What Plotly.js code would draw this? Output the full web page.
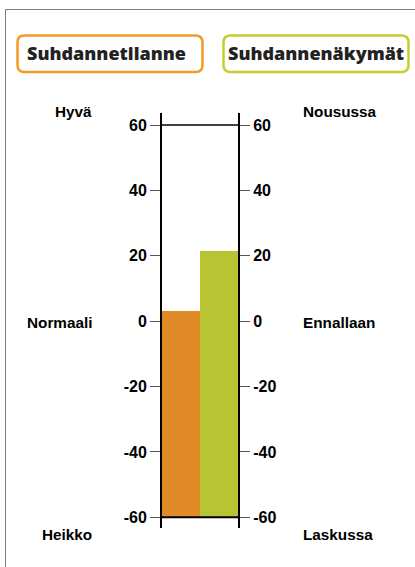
<!DOCTYPE html>
<html>
<head>
<meta charset="utf-8">
<script src="https://cdn.plot.ly/plotly-3.0.1.min.js"></script>
<style>html,body{margin:0;padding:0;background:#fff;}#chart{width:415px;height:567px;}</style>
</head>
<body>
<div id="chart"></div>
<script>
// Data
const seriesNames = ["Suhdannetilanne", "Suhdannenäkymät"];
const seriesValues = [3, 21.4];
const barColors = ["#E08A28", "#B9C434"];
const boxColors = ["#F39B26", "#C4CF2C"];
const tickValues = [-60, -40, -20, 0, 20, 40, 60];
const leftLabels = ["Hyvä", "Normaali", "Heikko"];
const rightLabels = ["Nousussa", "Ennallaan", "Laskussa"];
const baseValue = -60;

const W = 415, H = 567;
const M = {l: 162, r: 177, t: 113, b: 39};
const px = x => (x - M.l) / (W - M.l - M.r);
const py = y => (H - M.b - y) / (H - M.t - M.b);

function roundRect(x0, y0, x1, y1, r) {
  const X0 = px(x0), X1 = px(x1), Y0 = py(y0), Y1 = py(y1);
  const rx = px(x0 + r) - X0, ry = py(y0) - py(y0 + r);
  return `M ${X0 + rx},${Y0} L ${X1 - rx},${Y0} Q ${X1},${Y0} ${X1},${Y0 - ry} ` +
         `L ${X1},${Y1 + ry} Q ${X1},${Y1} ${X1 - rx},${Y1} L ${X0 + rx},${Y1} ` +
         `Q ${X0},${Y1} ${X0},${Y1 + ry} L ${X0},${Y0 - ry} Q ${X0},${Y0} ${X0 + rx},${Y0} Z`;
}

const traces = seriesValues.map((v, i) => ({
  type: "bar",
  x: [i],
  y: [v - baseValue],
  base: [baseValue],
  width: 1,
  marker: {color: barColors[i], line: {width: 0}},
  name: seriesNames[i],
  hoverinfo: "skip"
}));
traces.push({type: "scatter", x: [0], y: [0], yaxis: "y2", mode: "none", hoverinfo: "skip", showlegend: false});

const yRange = [-63.27, 63.67];
const tickFont = {family: "Arial, 'Liberation Sans', sans-serif", size: 16, color: "#000", weight: 700};
const axisCommon = {
  range: yRange, tickvals: tickValues, ticktext: tickValues.map(String),
  showline: true, linecolor: "#000", linewidth: 2,
  ticks: "outside", ticklen: 10, tickwidth: 1, tickcolor: "#555",
  showgrid: false, zeroline: false, tickfont: tickFont, fixedrange: true
};

const labelFont = {family: "Arial, 'Liberation Sans', sans-serif", size: 15.3, color: "#000", weight: 700};
const labelY = [111, 322, 534];
const annotations = [];
leftLabels.forEach((t, i) => annotations.push({
  text: t, xref: "paper", yref: "paper", x: px(94), y: py(labelY[i]),
  xanchor: "right", yanchor: "middle", showarrow: false, font: labelFont
}));
rightLabels.forEach((t, i) => annotations.push({
  text: t, xref: "paper", yref: "paper", x: px(301), y: py(labelY[i]),
  xanchor: "left", yanchor: "middle", showarrow: false, font: labelFont
}));
const boxFont = {family: "'Open Sans', 'Noto Sans', sans-serif", size: 18, color: "#222", weight: 800};
annotations.push({text: seriesNames[0], xref: "paper", yref: "paper", x: px(106), y: py(53),
  xanchor: "center", yanchor: "middle", showarrow: false, font: boxFont});
annotations.push({text: seriesNames[1], xref: "paper", yref: "paper", x: px(316), y: py(53),
  xanchor: "center", yanchor: "middle", showarrow: false, font: boxFont});

const shapes = [
  {type: "line", xref: "paper", yref: "paper", x0: px(5), x1: px(415), y0: py(9.5), y1: py(9.5), line: {color: "#808080", width: 1}},
  {type: "line", xref: "paper", yref: "paper", x0: px(5.5), x1: px(5.5), y0: py(9), y1: py(567), line: {color: "#808080", width: 1}},
  {type: "path", xref: "paper", yref: "paper", path: roundRect(17.5, 35.5, 202.5, 72, 7), line: {color: boxColors[0], width: 2.5}},
  {type: "path", xref: "paper", yref: "paper", path: roundRect(223.5, 35.5, 408.5, 72, 7), line: {color: boxColors[1], width: 2.5}},
  {type: "line", xref: "paper", yref: "y", x0: 0, x1: 1, y0: 60, y1: 60, line: {color: "#000", width: 1.5}, layer: "above"},
  {type: "line", xref: "paper", yref: "y", x0: 0, x1: 1, y0: -60, y1: -60, line: {color: "#000", width: 2}, layer: "above"}
];

const layout = {
  width: W, height: H,
  margin: M,
  paper_bgcolor: "#fff", plot_bgcolor: "#fff",
  showlegend: false,
  bargap: 0,
  xaxis: {range: [-0.5, 1.5], visible: false, fixedrange: true},
  yaxis: Object.assign({}, axisCommon, {side: "left"}),
  yaxis2: Object.assign({}, axisCommon, {side: "right", overlaying: "y"}),
  shapes: shapes,
  annotations: annotations
};

Plotly.newPlot("chart", traces, layout, {staticPlot: true, displayModeBar: false});
</script>
</body>
</html>
